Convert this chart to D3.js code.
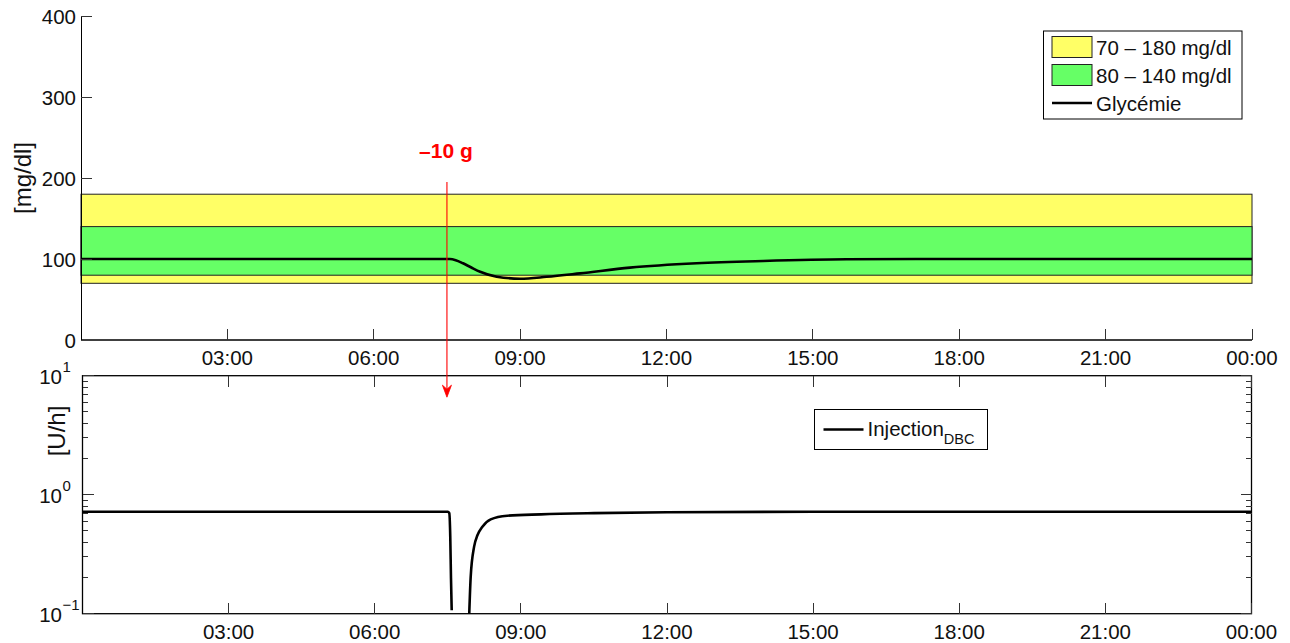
<!DOCTYPE html>
<html>
<head>
<meta charset="utf-8">
<script src="https://cdn.jsdelivr.net/npm/d3@7"></script>
<style>
  html, body { margin: 0; padding: 0; background: #fff; }
  svg { display: block; font-family: "Liberation Sans", Arial, Helvetica, sans-serif; }
</style>
</head>
<body>
<svg id="chart" width="1290" height="643"></svg>
<script>
// ---------- data ----------
const timeTicks = [3, 6, 9, 12, 15, 18, 21, 24];
const timeTickLabels = ["03:00", "06:00", "09:00", "12:00", "15:00", "18:00", "21:00", "00:00"];
const glucoseTicks = [0, 100, 200, 300, 400];

const bandNames = ["70 – 180 mg/dl", "80 – 140 mg/dl"];
const bandLow = [70, 80];
const bandHigh = [180, 140];
const bandColors = ["#ffff66", "#66ff66"];

const glucoseHours = [0, 3, 6, 7.5, 7.56, 7.68, 7.83, 8.0, 8.18, 8.52, 9.0, 9.54, 10.23, 11.25, 12.62, 13.98, 15.69, 18, 21, 24];
const glucoseValues = [100, 100, 100, 100, 100, 98.6, 94.7, 89.5, 84.3, 78.2, 75.7, 78.0, 82.3, 89.3, 94.7, 97.5, 99.6, 100, 100, 100];

const insulinHours = [0, 3, 6, 7.5, 7.53, 7.55, 7.565, 7.58, 7.6, 7.94, 7.97, 8.04, 8.11, 8.21, 8.38, 8.72, 9.41, 10.5, 12, 15, 18, 24];
const insulinRate = [0.72, 0.72, 0.72, 0.72, 0.70, 0.45, 0.2, 0.107, null, 0.1, 0.205, 0.366, 0.458, 0.538, 0.621, 0.666, 0.684, 0.70, 0.712, 0.72, 0.72, 0.72];

const insulinMajor = [0.1, 1, 10];
const insulinMajorExp = ["−1", "0", "1"];
const insulinMinor = [0.2, 0.3, 0.4, 0.5, 0.6, 0.7, 0.8, 0.9, 2, 3, 4, 5, 6, 7, 8, 9];

const bolusLabel = "–10 g";
const bolusHour = 7.5;
const arrowFromGlucose = 195;
const arrowToInsulin = 6.6;

// ---------- layout ----------
const svg = d3.select("#chart");
const FS = 20.5;
const LFS = 24;
const topP = { left: 81, right: 1252, top: 16, bottom: 340 };
const botP = { left: 82.5, right: 1251.5, top: 375.7, bottom: 613.7 };

const xTop = d3.scaleLinear().domain([0, 24]).range([topP.left, topP.right]);
const yTop = d3.scaleLinear().domain([0, 400]).range([topP.bottom, topP.top]);
const xBot = d3.scaleLinear().domain([0, 24]).range([botP.left, botP.right]);
const yBot = d3.scaleLog().domain([0.1, 10]).range([botP.bottom, botP.top]);

// ---------- top panel ----------
const gT = svg.append("g");
bandLow.forEach((lo, i) => {
  gT.append("rect")
    .attr("x", xTop(0)).attr("width", xTop(24) - xTop(0))
    .attr("y", yTop(bandHigh[i])).attr("height", yTop(lo) - yTop(bandHigh[i]))
    .attr("fill", bandColors[i]).attr("stroke", "#222").attr("stroke-width", 1);
});
const gData = glucoseHours.map((h, i) => [h, glucoseValues[i]]);
gT.append("path")
  .datum(gData)
  .attr("fill", "none").attr("stroke", "#000").attr("stroke-width", 2.6)
  .attr("d", d3.line().x(d => xTop(d[0])).y(d => yTop(d[1])).curve(d3.curveMonotoneX));

gT.append("line").attr("x1", topP.left).attr("x2", topP.left).attr("y1", topP.top).attr("y2", topP.bottom)
  .attr("stroke", "#000").attr("stroke-width", 1).attr("shape-rendering", "crispEdges");
gT.append("line").attr("x1", topP.left).attr("x2", topP.right).attr("y1", topP.bottom).attr("y2", topP.bottom)
  .attr("stroke", "#000").attr("stroke-width", 1.4);
glucoseTicks.forEach(v => {
  if (v > 0) gT.append("line").attr("x1", topP.left).attr("x2", topP.left + 11)
    .attr("y1", yTop(v)).attr("y2", yTop(v)).attr("stroke", "#333").attr("shape-rendering", "crispEdges");
  gT.append("text").attr("x", topP.left - 5).attr("y", yTop(v)).attr("text-anchor", "end")
    .attr("dominant-baseline", "central").attr("font-size", FS).attr("fill", "#111").text(v);
});
timeTicks.forEach((h, i) => {
  gT.append("line").attr("x1", xTop(h)).attr("x2", xTop(h)).attr("y1", topP.bottom).attr("y2", topP.bottom - 11)
    .attr("stroke", "#333").attr("shape-rendering", "crispEdges");
  gT.append("text").attr("x", xTop(h)).attr("y", topP.bottom + 17).attr("text-anchor", "middle")
    .attr("dominant-baseline", "central").attr("font-size", FS).attr("fill", "#111").text(timeTickLabels[i]);
});
gT.append("text").attr("transform", "translate(22,178) rotate(-90)").attr("text-anchor", "middle")
  .attr("dominant-baseline", "central").attr("font-size", LFS).attr("fill", "#111").text("[mg/dl]");

const lgT = gT.append("g");
lgT.append("rect").attr("x", 1043.5).attr("y", 31).attr("width", 198.5).attr("height", 88)
  .attr("fill", "#fff").attr("stroke", "#000").attr("stroke-width", 1);
const legRows = [47, 75, 103];
bandNames.forEach((n, i) => {
  lgT.append("rect").attr("x", 1052).attr("y", legRows[i] - 10.5).attr("width", 40).attr("height", 21)
    .attr("fill", bandColors[i]).attr("stroke", "#222").attr("stroke-width", 1);
  lgT.append("text").attr("x", 1096).attr("y", legRows[i]).attr("dominant-baseline", "central")
    .attr("font-size", FS).attr("fill", "#111").text(n);
});
lgT.append("line").attr("x1", 1052).attr("x2", 1092).attr("y1", legRows[2]).attr("y2", legRows[2])
  .attr("stroke", "#000").attr("stroke-width", 2.4);
lgT.append("text").attr("x", 1096).attr("y", legRows[2]).attr("dominant-baseline", "central")
  .attr("font-size", FS).attr("fill", "#111").text("Glycémie");

// ---------- bottom panel ----------
const gB = svg.append("g");
svg.append("clipPath").attr("id", "clipB").append("rect")
  .attr("x", botP.left).attr("y", botP.top).attr("width", botP.right - botP.left).attr("height", botP.bottom - botP.top + 1);

const iData = insulinHours.map((h, i) => [h, insulinRate[i]]);
gB.append("path")
  .datum(iData)
  .attr("clip-path", "url(#clipB)")
  .attr("fill", "none").attr("stroke", "#000").attr("stroke-width", 2.6)
  .attr("d", d3.line().defined(d => d[1] !== null)
    .x(d => xBot(d[0])).y(d => yBot(Math.max(d[1], 0.09))).curve(d3.curveMonotoneX));

gB.append("rect").attr("x", botP.left).attr("y", botP.top).attr("width", botP.right - botP.left)
  .attr("height", botP.bottom - botP.top).attr("fill", "none").attr("stroke", "#000").attr("stroke-width", 1.3);

timeTicks.forEach((h, i) => {
  gB.append("line").attr("x1", xBot(h)).attr("x2", xBot(h)).attr("y1", botP.bottom).attr("y2", botP.bottom - 11)
    .attr("stroke", "#333").attr("shape-rendering", "crispEdges");
  gB.append("line").attr("x1", xBot(h)).attr("x2", xBot(h)).attr("y1", botP.top).attr("y2", botP.top + 11)
    .attr("stroke", "#333").attr("shape-rendering", "crispEdges");
  gB.append("text").attr("x", xBot(h)).attr("y", botP.bottom + 18).attr("text-anchor", "middle")
    .attr("dominant-baseline", "central").attr("font-size", FS).attr("fill", "#111").text(timeTickLabels[i]);
});
insulinMajor.forEach((v, i) => {
  [[botP.left, 1], [botP.right, -1]].forEach(([x0, s]) => {
    gB.append("line").attr("x1", x0).attr("x2", x0 + s * 11).attr("y1", yBot(v)).attr("y2", yBot(v))
      .attr("stroke", "#333").attr("shape-rendering", "crispEdges");
  });
  gB.append("text").attr("x", 62).attr("y", yBot(v) + 1).attr("text-anchor", "end")
    .attr("dominant-baseline", "central").attr("font-size", FS).attr("fill", "#111").text("10");
  gB.append("text").attr("x", 62.5).attr("y", yBot(v) - 9).attr("text-anchor", "start")
    .attr("dominant-baseline", "central").attr("font-size", 15).attr("fill", "#111").text(insulinMajorExp[i]);
});
insulinMinor.forEach(v => {
  [[botP.left, 1], [botP.right, -1]].forEach(([x0, s]) => {
    gB.append("line").attr("x1", x0).attr("x2", x0 + s * 5.5).attr("y1", yBot(v)).attr("y2", yBot(v))
      .attr("stroke", "#333").attr("shape-rendering", "crispEdges");
  });
});
gB.append("text").attr("transform", "translate(56,431) rotate(-90)").attr("text-anchor", "middle")
  .attr("dominant-baseline", "central").attr("font-size", LFS).attr("fill", "#111").text("[U/h]");

const lgB = gB.append("g");
lgB.append("rect").attr("x", 814.5).attr("y", 409.5).attr("width", 173).attr("height", 40)
  .attr("fill", "#fff").attr("stroke", "#000").attr("stroke-width", 1);
lgB.append("line").attr("x1", 823.5).attr("x2", 863.5).attr("y1", 429.5).attr("y2", 429.5)
  .attr("stroke", "#000").attr("stroke-width", 2.4);
const lt = lgB.append("text").attr("x", 867.5).attr("y", 436).attr("font-size", FS).attr("fill", "#111");
lt.append("tspan").text("Injection");
lt.append("tspan").attr("font-size", 14.5).attr("dy", 8).text("DBC");

// ---------- bolus annotation ----------
const ax = xTop(bolusHour);
const ay1 = yTop(arrowFromGlucose);
const ay2 = yBot(arrowToInsulin);
svg.append("line").attr("x1", ax).attr("x2", ax).attr("y1", ay1).attr("y2", ay2 - 4)
  .attr("stroke", "#ff0000").attr("stroke-width", 1.1);
svg.append("path")
  .attr("d", `M${ax},${ay2} L${ax - 4.5},${ay2 - 12} L${ax},${ay2 - 8} L${ax + 4.5},${ay2 - 12} Z`)
  .attr("fill", "#ff0000").attr("stroke", "#ff0000").attr("stroke-width", 0.8);
svg.append("text").attr("x", ax - 1).attr("y", 150).attr("text-anchor", "middle")
  .attr("dominant-baseline", "central").attr("font-size", 21).attr("font-weight", "bold")
  .attr("fill", "#ff0000").text(bolusLabel);
</script>
</body>
</html>
